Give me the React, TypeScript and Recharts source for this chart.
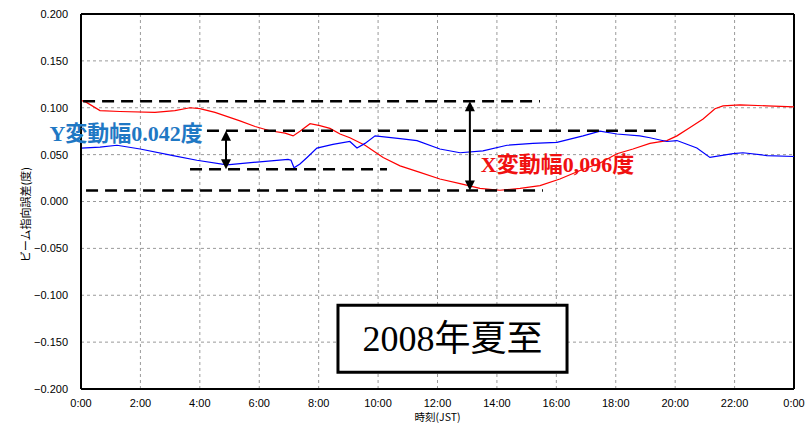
import React from 'react'
import { LineChart, Line, XAxis, YAxis, CartesianGrid, ReferenceLine, ReferenceArea, ReferenceDot } from 'recharts'

const hourTicks = [0, 2, 4, 6, 8, 10, 12, 14, 16, 18, 20, 22, 24]
const valueTicks = [-0.2, -0.15, -0.1, -0.05, 0, 0.05, 0.1, 0.15, 0.2]

// X direction (red)
const xHours = [0, 0.17, 0.64, 1.31, 2.49, 3.16, 3.67, 4.0, 4.51, 5.35, 5.86, 6.36, 6.87, 7.14, 7.37, 7.71, 8.04, 8.38, 8.72, 9.05, 9.56, 10.17, 10.74, 11.41, 12.08, 12.76, 13.43, 14.1, 14.78, 15.45, 16.12, 16.8, 17.47, 18.04, 18.58, 19.15, 19.72, 20.06, 20.5, 20.94, 21.34, 21.61, 22.18, 23.09, 24]
const xValues = [0.108, 0.106, 0.097, 0.096, 0.095, 0.097, 0.1, 0.099, 0.095, 0.086, 0.08, 0.0755, 0.073, 0.07, 0.075, 0.083, 0.081, 0.078, 0.072, 0.068, 0.06, 0.047, 0.038, 0.031, 0.024, 0.019, 0.014, 0.012, 0.014, 0.017, 0.024, 0.033, 0.041, 0.051, 0.056, 0.062, 0.065, 0.07, 0.079, 0.088, 0.099, 0.102, 0.103, 0.102, 0.101]

// Y direction (blue)
const yHours = [0, 0.64, 1.21, 1.99, 3.1, 3.9, 4.91, 5.92, 6.97, 7.07, 7.17, 7.37, 7.61, 7.94, 8.48, 9.05, 9.29, 9.56, 9.9, 10.74, 11.31, 12.08, 12.76, 13.53, 14.34, 15.21, 16.02, 16.9, 17.47, 18.04, 18.81, 19.15, 19.72, 20.06, 20.73, 21.17, 21.95, 22.28, 23.09, 24]
const yValues = [0.057, 0.058, 0.06, 0.056, 0.049, 0.044, 0.039, 0.042, 0.045, 0.044, 0.036, 0.04, 0.047, 0.057, 0.061, 0.064, 0.057, 0.062, 0.07, 0.067, 0.065, 0.056, 0.052, 0.054, 0.06, 0.062, 0.063, 0.07, 0.075, 0.072, 0.07, 0.068, 0.064, 0.065, 0.057, 0.047, 0.051, 0.052, 0.049, 0.048]

// dashed guide lines (max / min of each series)
const guideStarts = [0.07, 4.24, 3.67, 0.17]
const guideEnds = [15.45, 19.42, 10.3, 15.55]
const guideValues = [0.107, 0.0755, 0.0345, 0.0117]

// double arrows for the ranges
const arrowHours = [4.88, 13.09]
const arrowTops = [0.0755, 0.107]
const arrowBottoms = [0.0345, 0.0117]

const noteTexts = ['Y変動幅0.042度', 'X変動幅0,096度']
const noteHours = [4.1, 13.46]
const noteValues = [0.0649, 0.0319]
const noteColors = ['#1f78c4', '#f01010']
const noteAnchors = ['end', 'start']

const boxTitle = '2008年夏至'
const boxHours = [8.65, 16.36]
const boxValues = [-0.1106, -0.182]

const xData = xHours.map((h, i) => ({ h, v: xValues[i] }))
const yData = yHours.map((h, i) => ({ h, v: yValues[i] }))

const tickFont = { fontSize: 11, fill: '#000', fontFamily: "'Liberation Sans', Arial, sans-serif" }
const noteFont = "'Liberation Serif', 'Noto Sans CJK JP', serif"

const fmtHour = (h: number) => `${h % 24}:00`
const fmtValue = (v: number) => (v < 0 ? '\u2212' : '') + Math.abs(v).toFixed(3)

const YTitle = (props: any) => {
  const vb = props.viewBox
  const cx = vb.x + 25
  const cy = vb.y + vb.height / 2 + 13
  return (
    <text x={cx} y={cy} transform={`rotate(-90 ${cx} ${cy})`} textAnchor="middle" dominantBaseline="central"
      fontSize={11} fill="#000" fontFamily="'Noto Sans CJK JP', sans-serif">
      ビーム指向誤差(度)
    </text>
  )
}

const XTitle = (props: any) => {
  const vb = props.viewBox
  return (
    <text x={vb.x + vb.width / 2} y={vb.y + vb.height - 3} textAnchor="middle" fontSize={10.5} fill="#000"
      fontFamily="'Noto Sans CJK JP', sans-serif">
      時刻(JST)
    </text>
  )
}

const Arrow = (props: any) => {
  const { x1, y1, x2, y2 } = props
  const top = Math.min(y1, y2)
  const bot = Math.max(y1, y2)
  return (
    <g>
      <line x1={x1} y1={top + 6} x2={x2} y2={bot - 6} stroke="#000" strokeWidth={2} />
      <polygon points={`${x1},${top} ${x1 - 5},${top + 10} ${x1 + 5},${top + 10}`} fill="#000" />
      <polygon points={`${x1},${bot} ${x1 - 5},${bot - 10} ${x1 + 5},${bot - 10}`} fill="#000" />
    </g>
  )
}

const makeNote = (i: number) => (props: any) => {
  const vb = props.viewBox
  return (
    <text x={vb.x} y={vb.y} textAnchor={noteAnchors[i]} fontSize={22} fontWeight="bold" fill={noteColors[i]}
      fontFamily={noteFont}>
      {noteTexts[i]}
    </text>
  )
}

const App = () => {
  return (
    <div style={{ position: 'absolute', left: 0, top: 0, background: '#fff' }}>
      <LineChart width={807} height={424} margin={{ top: 14, right: 13, bottom: 0, left: 0 }}>
        <CartesianGrid stroke="#9a9a9a" strokeDasharray="3 3" />
        <XAxis type="number" dataKey="h" domain={[0, 24]} ticks={hourTicks} tickFormatter={fmtHour}
          axisLine={{ stroke: '#000', strokeWidth: 2 }} tickLine={false} tickSize={4} tickMargin={6}
          height={35} tick={tickFont} label={<XTitle />} allowDataOverflow />
        <YAxis type="number" domain={[-0.2, 0.2]} ticks={valueTicks} tickFormatter={fmtValue}
          axisLine={{ stroke: '#000', strokeWidth: 2 }} tickLine={false} tickSize={6} tickMargin={7}
          width={81} tick={tickFont} label={<YTitle />} allowDataOverflow />

        <ReferenceLine y={0.2} stroke="#000" strokeWidth={2} ifOverflow="visible" />
        <ReferenceLine x={24} stroke="#000" strokeWidth={2} ifOverflow="visible" />

        <Line data={xData} dataKey="v" stroke="#ff0000" strokeWidth={1.2} dot={false} isAnimationActive={false} />
        <Line data={yData} dataKey="v" stroke="#0000ff" strokeWidth={1.2} dot={false} isAnimationActive={false} />

        {guideValues.map((v, i) => (
          <ReferenceLine key={`g${i}`} segment={[{ x: guideStarts[i], y: v }, { x: guideEnds[i], y: v }]}
            stroke="#000" strokeWidth={2.5} strokeDasharray="12 7" ifOverflow="visible" />
        ))}
        {arrowHours.map((h, i) => (
          <ReferenceLine key={`a${i}`} segment={[{ x: h, y: arrowTops[i] }, { x: h, y: arrowBottoms[i] }]}
            shape={Arrow} ifOverflow="visible" />
        ))}
        {noteTexts.map((t, i) => (
          <ReferenceDot key={t} x={noteHours[i]} y={noteValues[i]} r={0} stroke="none" fill="none"
            ifOverflow="visible" label={makeNote(i)} />
        ))}

        <ReferenceArea x1={boxHours[0]} x2={boxHours[1]} y1={boxValues[0]} y2={boxValues[1]}
          fill="#fff" fillOpacity={1} stroke="#000" strokeWidth={3} ifOverflow="visible"
          label={{ value: boxTitle, position: 'center', fontSize: 36, fill: '#000', fontFamily: noteFont }} />
      </LineChart>
    </div>
  )
}

export default App
